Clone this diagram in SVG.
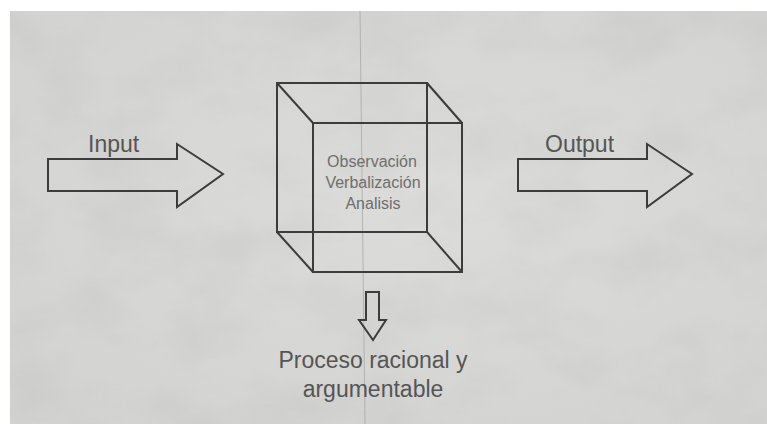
<svg xmlns="http://www.w3.org/2000/svg" width="767" height="424" viewBox="0 0 767 424">
<style>
.shape{fill:none;stroke:#3c3c3c;stroke-width:2;stroke-linejoin:miter}
.lbl{font-family:"Liberation Sans",Arial,sans-serif;fill:#555555}
.inner{font-family:"Liberation Sans",Arial,sans-serif;fill:#6e6e6e;font-size:16px;text-anchor:middle}
</style>
<defs>
<filter id="paper" x="0" y="0" width="100%" height="100%">
<feTurbulence type="fractalNoise" baseFrequency="0.012 0.018" numOctaves="4" seed="7" result="n"/>
<feColorMatrix in="n" type="matrix" values="0 0 0 0 0  0 0 0 0 0  0 0 0 0 0  0 0 0 -0.9 0.55" result="a"/>
<feFlood flood-color="#a8a8a6"/>
<feComposite in2="a" operator="in"/>
</filter>
<radialGradient id="bg" cx="0.55" cy="0.45" r="0.75">
<stop offset="0" stop-color="#dcdcda"/>
<stop offset="1" stop-color="#d2d2d0"/>
</radialGradient>
</defs>
<rect width="767" height="424" fill="#ffffff"/>
<rect x="10" y="11" width="757" height="413" fill="url(#bg)"/>
<rect x="10" y="11" width="757" height="413" filter="url(#paper)" opacity="0.35"/>
<line x1="360" y1="11" x2="365" y2="424" stroke="#9a9a96" stroke-width="1" opacity="0.6"/>
<g id="input-arrow">
<polygon class="shape" points="48,159 177,159 177,144 223,174 177,207 177,191 48,191"/>
<text class="lbl" x="88" y="152" font-size="23">Input</text>
</g>
<g id="process-box">
<rect class="shape" x="277" y="83" width="150" height="149"/>
<rect class="shape" x="313" y="123" width="149" height="149"/>
<line class="shape" x1="277" y1="83" x2="313" y2="123"/>
<line class="shape" x1="427" y1="83" x2="462" y2="123"/>
<line class="shape" x1="277" y1="232" x2="313" y2="272"/>
<line class="shape" x1="427" y1="232" x2="462" y2="272"/>
<text class="inner" x="372" y="167">Observación</text>
<text class="inner" x="373" y="188">Verbalización</text>
<text class="inner" x="373" y="209">Analisis</text>
</g>
<g id="output-arrow">
<polygon class="shape" points="518,159 647,159 647,144 692,174 647,207 647,191 518,191"/>
<text class="lbl" x="545" y="152" font-size="23">Output</text>
</g>
<g id="connectors">
<polygon class="shape" points="366,292 379,292 379,320 386,320 373,340 359,320 366,320"/>
</g>
<g id="result">
<text class="lbl" x="373" y="368" font-size="23" text-anchor="middle">Proceso racional y</text>
<text class="lbl" x="373" y="397" font-size="23" text-anchor="middle">argumentable</text>
</g>
</svg>
